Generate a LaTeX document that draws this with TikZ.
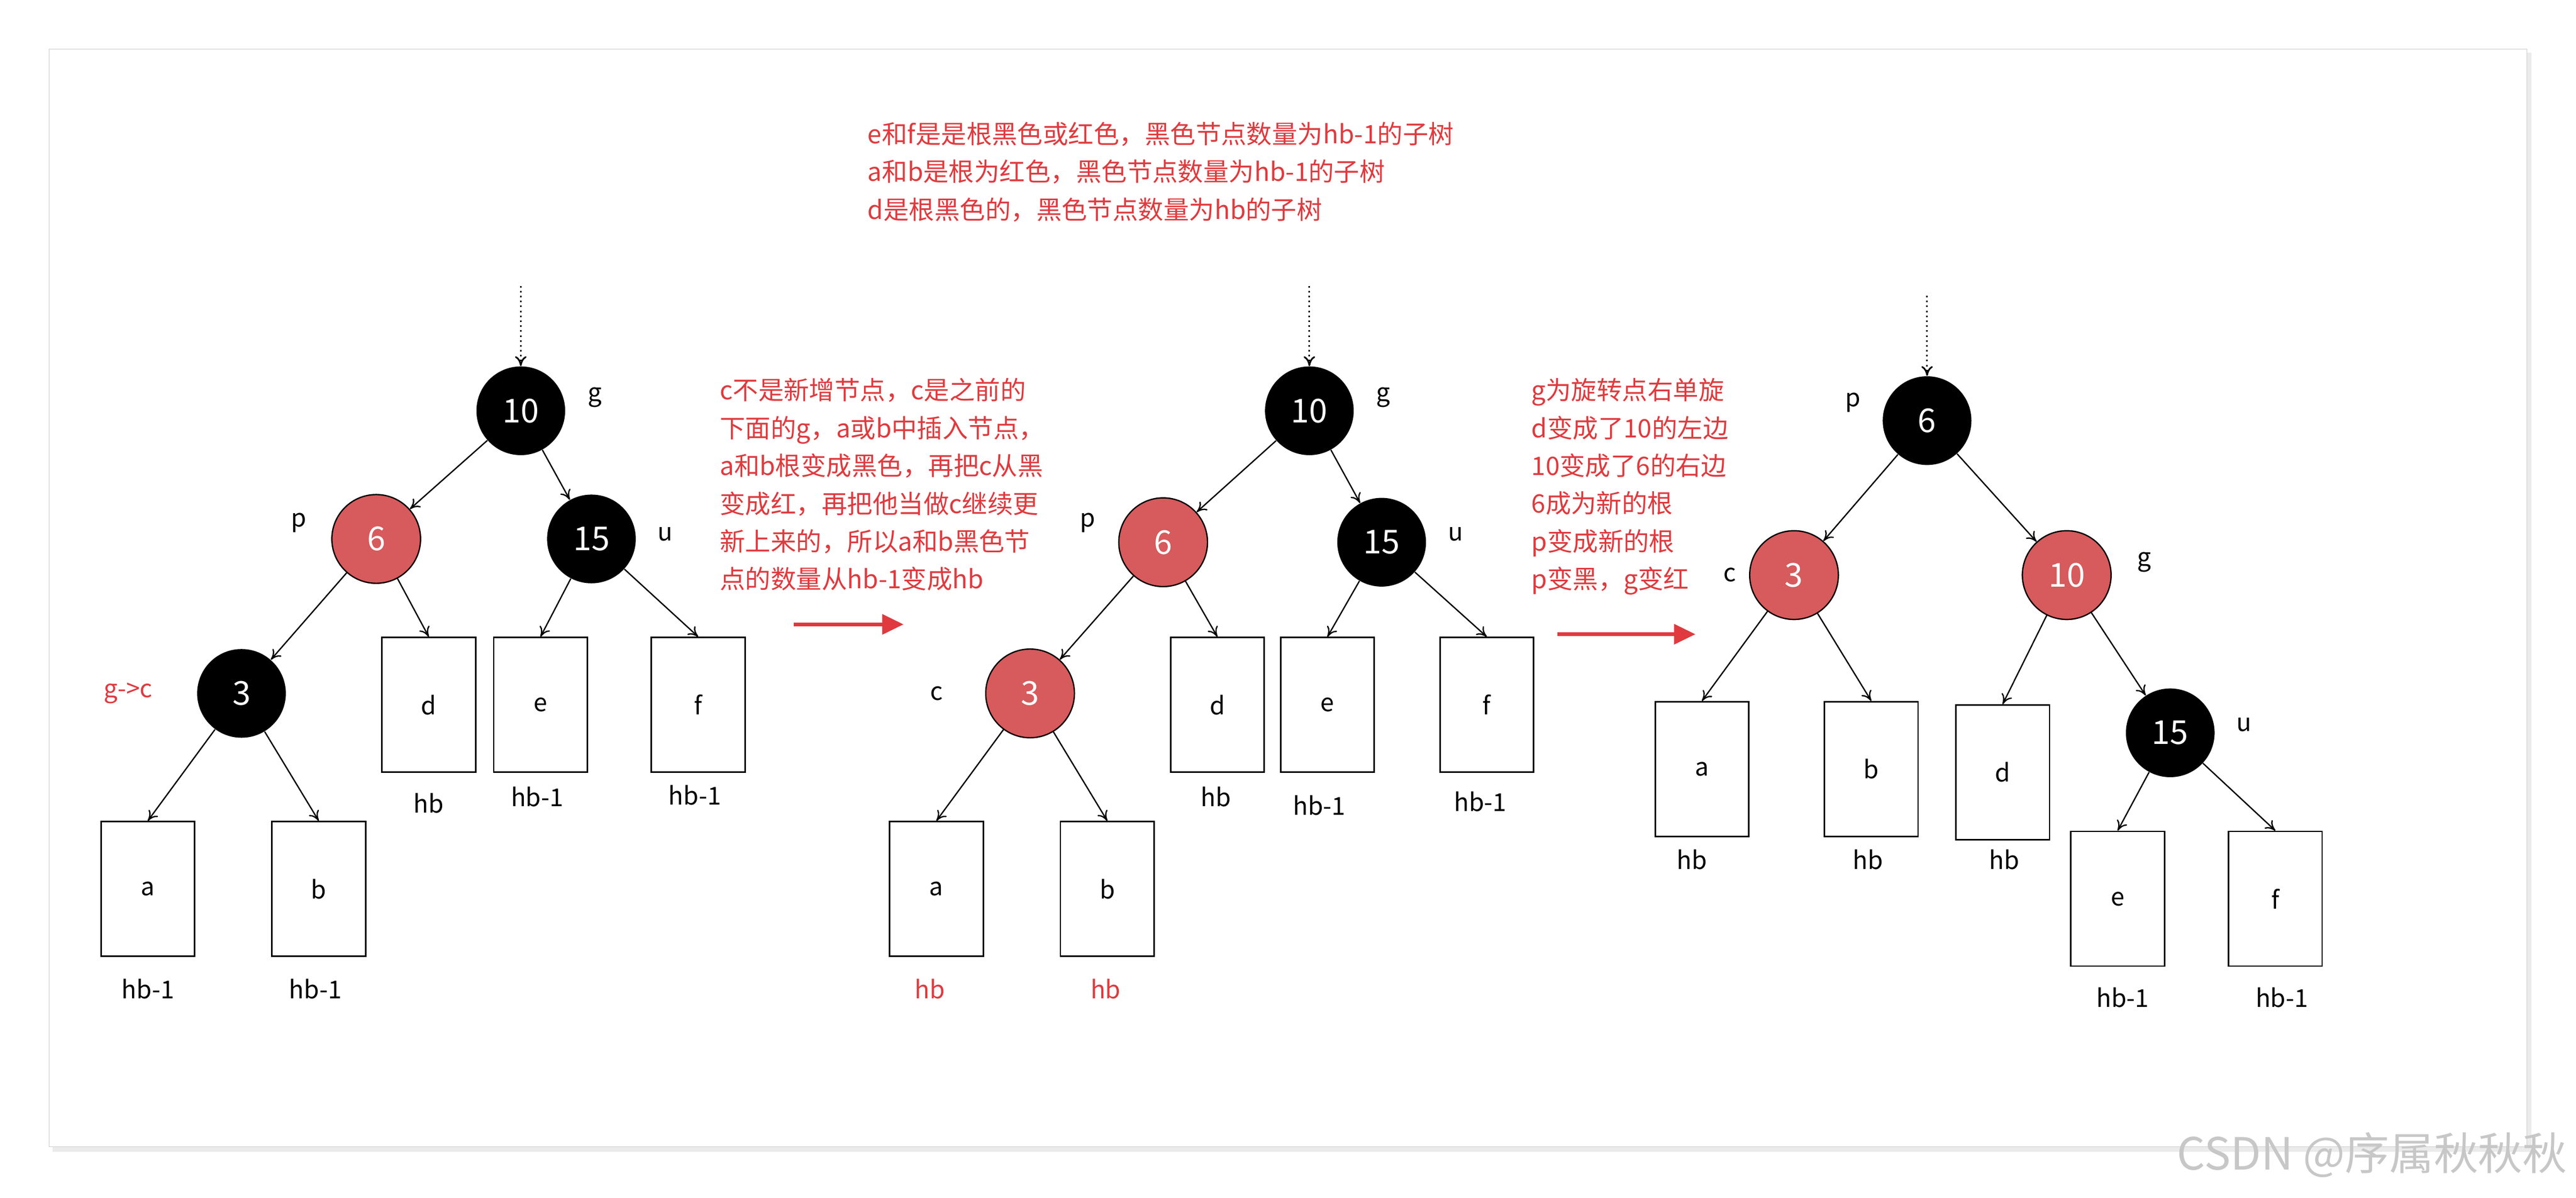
\documentclass[tikz,border=0pt]{standalone}
\usepackage{fontspec}
\setmainfont{Noto Sans CJK SC}
\usetikzlibrary{arrows.meta}
\definecolor{rbfill}{HTML}{D75A5C}
\definecolor{rtext}{HTML}{E03A3E}
\tikzset{
 blk/.style={circle,fill=black,minimum size=54pt,inner sep=0pt,text=white,font=\fontsize{20}{20}\selectfont},
 rd/.style={circle,fill=rbfill,draw=black,line width=0.8pt,minimum size=54pt,inner sep=0pt,text=white,font=\fontsize{20}{20}\selectfont},
 sub/.style={draw,line width=0.9pt,minimum width=57pt,minimum height=82pt,inner sep=0pt,font=\fontsize{15}{15}\selectfont},
 lbl/.style={font=\fontsize{15}{15}\selectfont},
 rlbl/.style={font=\fontsize{15}{15}\selectfont,text=rtext},
 edge/.style={-{To[length=6pt,width=7pt]},line width=0.8pt},
 dots/.style={-{To[length=6pt,width=7pt]},dotted,line width=1pt},
 note/.style={text=rtext,font=\fontsize{15.5}{23}\selectfont,align=left,anchor=north west,inner sep=0pt},
 bigarr/.style={-{Triangle[length=13pt,width=12pt]},draw=rtext,line width=2.2pt}
}
\begin{document}
\begin{tikzpicture}[x=1pt,y=-1pt]
\useasboundingbox (0,0) rectangle (1568,729);
\fill[white] (0,0) rectangle (1568,729);
\fill[black!8] (32,32) rectangle (1541,701);
\draw[black!20,fill=white] (30,30) rectangle (1538,698);
% notes
\node[note] (n1) at (528,74) {e和f是是根黑色或红色，黑色节点数量为hb-1的子树\\a和b是根为红色，黑色节点数量为hb-1的子树\\d是根黑色的，黑色节点数量为hb的子树};
\node[note] (n2) at (438,230) {c不是新增节点，c是之前的\\下面的g，a或b中插入节点，\\a和b根变成黑色，再把c从黑\\变成红，再把他当做c继续更\\新上来的，所以a和b黑色节\\点的数量从hb-1变成hb};
\node[note] (n3) at (932,230) {g为旋转点右单旋\\d变成了10的左边\\10变成了6的右边\\6成为新的根\\p变成新的根\\p变黑，g变红};
\coordinate (ar1s) at (483,380); \coordinate (ar1e) at (550,380);
\coordinate (ar2s) at (948,386); \coordinate (ar2e) at (1032,386);
\draw[bigarr] (ar1s) -- (ar1e);
\draw[bigarr] (ar2s) -- (ar2e);
% tree 1
\coordinate (t1top) at (317,174);
\node[blk] (g1) at (317,250) {10};
\node[rd] (p1) at (229,328) {6};
\node[blk] (u1) at (360,328) {15};
\node[blk] (c1) at (147,422) {3};
\node[sub] (d1) at (261,429) {d};
\node[sub] (e1) at (329,429) {e};
\node[sub] (f1) at (425,429) {f};
\node[sub] (a1) at (90,541) {a};
\node[sub] (b1) at (194,541) {b};
\node[lbl] at (362,242) {g};
\node[lbl] at (182,318) {p};
\node[lbl] at (405,325) {u};
\node[rlbl] at (78,422) {g->c};
\node[lbl] at (261,489) {hb};
\node[lbl] at (327,485) {hb-1};
\node[lbl] at (423,484) {hb-1};
\node[lbl] at (90,602) {hb-1};
\node[lbl] at (192,602) {hb-1};
\draw[dots] (t1top) -- (g1.north);
\draw[edge] (g1) -- (p1); \draw[edge] (g1) -- (u1);
\draw[edge] (p1) -- (c1); \draw[edge] (p1) -- (d1.north);
\draw[edge] (u1) -- (e1.north); \draw[edge] (u1) -- (f1.north);
\draw[edge] (c1) -- (a1.north); \draw[edge] (c1) -- (b1.north);
% tree 2
\coordinate (t2top) at (797,174);
\node[blk] (g2) at (797,250) {10};
\node[rd] (p2) at (708,330) {6};
\node[blk] (u2) at (841,330) {15};
\node[rd] (c2) at (627,422) {3};
\node[sub] (d2) at (741,429) {d};
\node[sub] (e2) at (808,429) {e};
\node[sub] (f2) at (905,429) {f};
\node[sub] (a2) at (570,541) {a};
\node[sub] (b2) at (674,541) {b};
\node[lbl] at (842,242) {g};
\node[lbl] at (662,318) {p};
\node[lbl] at (886,325) {u};
\node[lbl] at (570,422) {c};
\node[lbl] at (740,485) {hb};
\node[lbl] at (803,490) {hb-1};
\node[lbl] at (901,488) {hb-1};
\node[rlbl] at (566,602) {hb};
\node[rlbl] at (673,602) {hb};
\draw[dots] (t2top) -- (g2.north);
\draw[edge] (g2) -- (p2); \draw[edge] (g2) -- (u2);
\draw[edge] (p2) -- (c2); \draw[edge] (p2) -- (d2.north);
\draw[edge] (u2) -- (e2.north); \draw[edge] (u2) -- (f2.north);
\draw[edge] (c2) -- (a2.north); \draw[edge] (c2) -- (b2.north);
% tree 3
\coordinate (t3top) at (1173,180);
\node[blk] (p3) at (1173,256) {6};
\node[rd] (c3) at (1092,350) {3};
\node[rd] (g3) at (1258,350) {10};
\node[blk] (u3) at (1321,446) {15};
\node[sub] (a3) at (1036,468) {a};
\node[sub] (b3) at (1139,468) {b};
\node[sub] (d3) at (1219,470) {d};
\node[sub] (e3) at (1289,547) {e};
\node[sub] (f3) at (1385,547) {f};
\node[lbl] at (1128,245) {p};
\node[lbl] at (1053,350) {c};
\node[lbl] at (1305,342) {g};
\node[lbl] at (1366,441) {u};
\node[lbl] at (1030,523) {hb};
\node[lbl] at (1137,523) {hb};
\node[lbl] at (1220,523) {hb};
\node[lbl] at (1292,607) {hb-1};
\node[lbl] at (1389,607) {hb-1};
\draw[dots] (t3top) -- (p3.north);
\draw[edge] (p3) -- (c3); \draw[edge] (p3) -- (g3);
\draw[edge] (c3) -- (a3.north); \draw[edge] (c3) -- (b3.north);
\draw[edge] (g3) -- (d3.north); \draw[edge] (g3) -- (u3);
\draw[edge] (u3) -- (e3.north); \draw[edge] (u3) -- (f3.north);
% watermark
\node[text=black!22,font=\fontsize{27}{27}\selectfont,anchor=east] (wm) at (1566,703) {CSDN @序属秋秋秋};
\end{tikzpicture}
\end{document}
